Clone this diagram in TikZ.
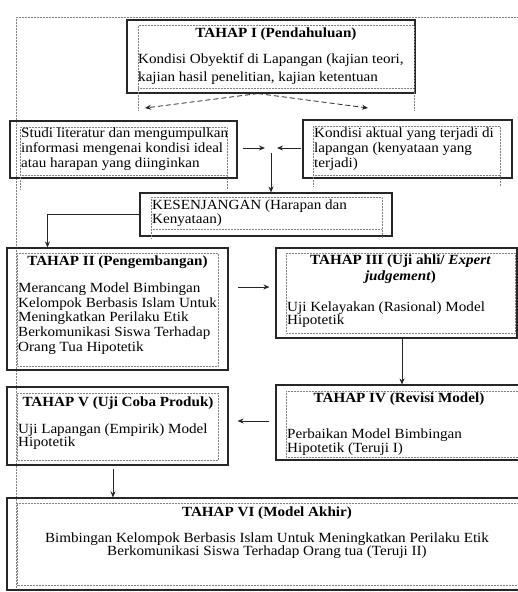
\documentclass[tikz,border=0pt]{standalone}
\usepackage{fontspec}
\setmainfont{Liberation Serif}[FakeStretch=1.08]
\usetikzlibrary{arrows.meta,fit}
\begin{document}
\begin{tikzpicture}[x=1pt,y=-1pt,
  box/.style={draw=black!85, line width=1.1pt, inner sep=0pt},
  frm/.style={draw=black!50, densely dotted, line width=0.5pt},
  body/.style={font=\fontsize{14}{#1}\selectfont, align=left, anchor=base west, inner sep=0pt, text=black},
  bodyc/.style={font=\fontsize{14}{#1}\selectfont, align=center, anchor=base, inner sep=0pt, text=black},
  ttl/.style={font=\fontsize{14}{#1}\bfseries\selectfont, align=center, anchor=base, inner sep=0pt, text=black},
  arr/.style={-{Stealth[length=6pt,width=5pt]}, line width=0.8pt, draw=black!85},
]
\useasboundingbox (0,0) rectangle (518,592);
% outer frame
\draw[frm] (16,592) -- (16,17) -- (518,17);

% TAHAP I
\node[box, fit={(127,20) (415,93)}] (b1) {};
\draw[frm] (138,110) -- (138,25) -- (414,25) -- (414,110);
\draw[frm] (138,88) -- (414,88);
\node[ttl=14] (t1) at (276,37) {TAHAP I (Pendahuluan)};
\node[body=18] (x1) at (138,81) {Kondisi Obyektif di Lapangan (kajian teori,\\kajian hasil penelitian, kajian ketentuan};

% Studi literatur
\node[box, fit={(10,121) (237,178)}] (b1a) {};
\draw[frm] (20,189) -- (20,127) -- (227,127) -- (227,189);
\draw[frm] (20,175) -- (227,175);
\node[body=15] (x1a) at (21,167.5) {Studi literatur dan mengumpulkan\\informasi mengenai kondisi ideal\\atau harapan yang diinginkan};

% Kondisi aktual
\node[box, fit={(303,120) (512,178)}] (b1b) {};
\draw[frm] (313,186) -- (313,126) -- (500,126) -- (500,186);
\draw[frm] (313,175) -- (500,175);
\node[body=15] (x1b) at (314,167) {Kondisi aktual yang terjadi di\\lapangan (kenyataan yang\\terjadi)};

% KESENJANGAN
\node[box, fit={(140,193) (392,236)}] (bk) {};
\draw[frm] (151,238) -- (151,197) -- (382,197) -- (382,238);
\draw[frm] (151,229) -- (382,229);
\node[body=14] (xk) at (152,223.5) {KESENJANGAN (Harapan dan\\Kenyataan)};

% TAHAP II
\node[box, fit={(7,248) (228,370)}] (b2) {};
\draw[frm] (17,253) rectangle (218,366);
\node[ttl=14] (t2) at (117.5,265) {TAHAP II (Pengembangan)};
\node[body=14.6] (x2) at (18,351) {Merancang Model Bimbingan\\Kelompok Berbasis Islam Untuk\\Meningkatkan Perilaku Etik\\Berkomunikasi Siswa Terhadap\\Orang Tua Hipotetik};

% TAHAP III
\node[box, fit={(276,248) (517,338)}] (b3) {};
\draw[frm] (286,253) rectangle (515,333);
\node[ttl=16] (t3) at (400.5,280.5) {TAHAP III (Uji ahli/ \textit{Expert}\\\textit{judgement})};
\node[body=13.5] (x3) at (287,324.5) {Uji Kelayakan (Rasional) Model\\Hipotetik};

% TAHAP IV
\node[box, fit={(276,385) (522,460)}] (b4) {};
\draw[frm] (286,391) -- (518,391);
\draw[frm] (286,391) -- (286,457) -- (518,457);
\node[ttl=14] (t4) at (399,402.5) {TAHAP IV (Revisi Model)};
\node[body=14] (x4) at (287,452.5) {Perbaikan Model Bimbingan\\Hipotetik (Teruji I)};

% TAHAP V
\node[box, fit={(7,387) (228,465)}] (b5) {};
\draw[frm] (17,393) rectangle (218,460);
\node[ttl=14] (t5) at (118,406.5) {TAHAP V (Uji Coba Produk)};
\node[body=13] (x5) at (18,446.5) {Uji Lapangan (Empirik) Model\\Hipotetik};

% TAHAP VI
\node[box, fit={(7,498) (522,590)}] (b6) {};
\draw[frm] (17,503) -- (518,503);
\draw[frm] (518,585) -- (17,585) -- (17,503);
\node[ttl=14] (t6) at (267,516) {TAHAP VI (Model Akhir)};
\node[bodyc=13.5] (x6) at (267,555.5) {Bimbingan Kelompok Berbasis Islam Untuk Meningkatkan Perilaku Etik\\Berkomunikasi Siswa Terhadap Orang tua (Teruji II)};

% connectors
\coordinate (dl) at (145,108);
\coordinate (dr) at (368,108);
\draw[arr, dash pattern=on 5pt off 3pt] ([xshift=-13pt]b1.south) -- (dl);
\draw[arr, dash pattern=on 5pt off 3pt] ([xshift=-13pt]b1.south) -- (dr);

\coordinate (m) at (271,148);
\draw[arr, shorten <=5pt, shorten >=6pt] (b1a.east |- m) -- (m);
\draw[arr, shorten <=1pt, shorten >=6pt] (b1b.west |- m) -- (m);
\draw[arr, shorten <=5pt] (m) -- (bk.north -| m);

\draw[arr] (bk.west) -| ([xshift=41pt]b2.north west);

\coordinate (r23) at (0,287);
\draw[arr, shorten <=9pt, shorten >=6pt] (b2.east |- r23) -- (b3.west |- r23);

\coordinate (c34) at (402,0);
\draw[arr] (b3.south -| c34) -- (b4.north -| c34);

\coordinate (r45) at (0,421);
\draw[arr, shorten <=6pt, shorten >=9pt] (b4.west |- r45) -- (b5.east |- r45);

\coordinate (c56) at (113,0);
\draw[arr, shorten <=3pt] (b5.south -| c56) -- (b6.north -| c56);
\end{tikzpicture}
\end{document}
